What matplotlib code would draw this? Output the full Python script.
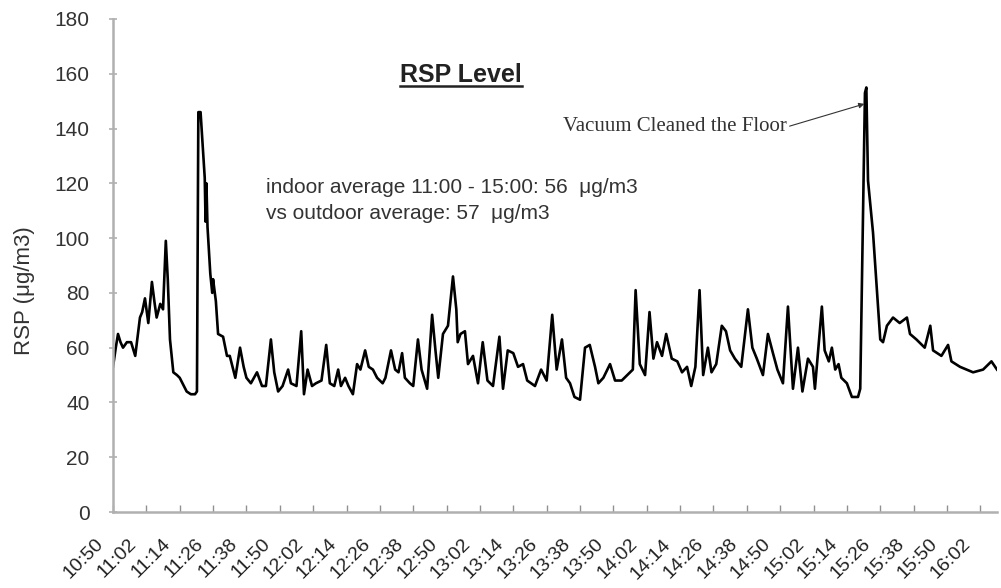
import matplotlib
matplotlib.use("Agg")
import matplotlib.pyplot as plt
from matplotlib.lines import Line2D
from matplotlib.transforms import ScaledTranslation

# ---- data (minutes after 10:50, RSP in ug/m3) ----
minutes = [0, 1, 1.8, 2.7, 3.6, 5, 6.5, 8, 9.7, 10.5, 11.5, 12.7, 14, 15, 15.7, 17, 18, 19, 19.7,
           20.5, 21.7, 23, 24, 25, 26.5, 28, 29.5, 30.2, 30.7, 31.5, 32, 33, 33.3, 33.6, 34, 35,
           35.7, 36, 37, 37.8, 39.6, 41, 42, 43, 44, 45.7, 47, 48, 49.6, 51.8, 53.6, 55, 56.8,
           58, 59.4, 61, 63,
           64, 66, 67.7, 68.7, 70, 71.6, 73, 75, 76.7, 78, 79.6, 81, 82, 83.5, 84.7, 86.3, 87.8,
           89, 90.7, 92, 93.5, 95, 97, 98, 100, 101.5, 102.7, 104, 105, 106.8, 108, 109.7, 111,
           113, 114.8, 116, 117, 118.7, 120.5, 122.3, 123.5, 124, 125, 126.6, 127.7, 129.5,
           131.3, 133, 134.7, 136.7, 139, 140.3, 142, 144, 145.7, 147.5, 149, 151.8, 154, 156,
           158, 159.6, 161.5, 163, 164.4, 166, 168, 169.8, 171.5, 173.4, 174.6, 176.4, 178.8,
           180.6, 183, 185, 187, 188, 189.5, 191.4, 193, 194.4, 195.7, 197.5, 199, 201, 203,
           204.7, 206.5, 208, 209.5, 211, 212.3, 214, 215.3, 217, 219, 220.5, 222, 223.7, 226,
           228.4, 230, 231.6, 233.8, 235.6, 237.4, 239, 241, 242.8, 244.6, 246.4, 248, 250,
           251.8, 252.5, 255, 256, 257.5, 258.6, 259.8, 261, 262, 264, 265.8, 268, 268.8,
           270.5, 271, 271.6, 273.4, 276, 277, 278.4, 280.6, 283, 285.6, 286.7, 289, 292, 294,
           295, 298, 300.4, 301.6, 304.7, 309.4, 313, 316, 318]
rsp = [53, 60, 65, 62, 60, 62, 62, 57, 71, 73, 78, 69, 84, 76, 71, 76, 74, 99, 85,
       63, 51, 50, 49, 47, 44, 43, 43, 44, 146, 146, 138, 122, 106, 120, 104, 87,
       80, 85, 77, 65, 64, 57, 57, 53, 49, 60, 53, 49, 47, 51, 46, 46, 63,
       51, 44, 46, 52,
       47, 46, 66, 43, 52, 46, 47, 48, 61, 47, 46, 52, 46, 49, 46, 43, 54,
       52, 59, 53, 52, 49, 47, 49, 59, 52, 51, 58, 49, 47, 46, 63, 52,
       45, 72, 59, 49, 65, 68, 86, 74, 62, 65, 66, 54, 57,
       47, 62, 48, 46, 64, 45, 59, 58, 53, 54, 48, 46, 52, 48,
       72, 52, 63, 49, 47, 42, 41, 60, 61, 53, 47, 49, 54,
       48, 48, 50, 52, 81, 54, 50, 73, 56, 62, 57, 65, 56, 55,
       51, 53, 46, 53, 81, 50, 60, 51, 54, 68, 66, 59, 56, 53,
       74, 60, 56, 50, 65, 58, 52, 47, 75, 45, 60, 44, 56,
       53, 45, 75, 59, 55, 60, 52, 54, 49, 47, 42, 42, 45,
       153, 155, 121, 102, 63, 62, 68, 71, 69, 71, 65, 63, 60, 68,
       59, 57, 61, 55, 53, 51, 52, 55, 52]

start_hour, start_min = 10, 50
tick_step = 12
n_ticks = 27
tick_labels = []
for i in range(n_ticks):
    t = start_hour * 60 + start_min + i * tick_step
    tick_labels.append(f"{t // 60}:{t % 60:02d}")
tick_pos = [i * tick_step for i in range(n_ticks)]

title = "RSP Level"
note1 = "indoor average 11:00 - 15:00: 56  μg/m3"
note2 = "vs outdoor average: 57  μg/m3"
event = "Vacuum Cleaned the Floor"

# ---- figure ----
fig = plt.figure(figsize=(10.01, 5.88), dpi=100)
ax = fig.add_axes([113 / 1001, 1 - 512 / 588, (997 - 113) / 1001, (512 - 19) / 588])

ax.plot(minutes, rsp, color="black", lw=1.9)

ax.set_xlim(0, 318)
ax.set_ylim(0, 180)
ax.set_yticks(range(0, 181, 20))
ax.set_xticks(tick_pos)
ax.set_xticklabels([])

# rotated time labels, placed below-left of each tick
lab_tr = ax.get_xaxis_transform() + ScaledTranslation(-13 / 72, -17 / 72, fig.dpi_scale_trans)
for pos, lab in zip(tick_pos, tick_labels):
    ax.text(pos, 0, lab, transform=lab_tr, rotation=45, ha="right", va="top",
            rotation_mode="anchor", fontsize=14, color="#222222",
            family="Liberation Sans", clip_on=False)

for lab in ax.get_yticklabels():
    lab.set_fontsize(15)
    lab.set_color("#333333")
    lab.set_family("Liberation Sans")

for s in ["top", "right"]:
    ax.spines[s].set_visible(False)
for s in ["left", "bottom"]:
    ax.spines[s].set_color("#b0b0b0")
    ax.spines[s].set_linewidth(1.8)
ax.tick_params(axis="y", direction="inout", length=6, color="#b0b0b0", width=1.2, pad=14)
ax.tick_params(axis="x", direction="in", length=5, color="#909090", width=1.0)

ax.set_ylabel("RSP (μg/m3)", fontsize=16, color="#333333", family="Liberation Sans")
ax.yaxis.set_label_coords(-0.088, 0.45)

t = ax.text(0.394, 0.886, title, transform=ax.transAxes, ha="center", va="center",
            fontsize=18, fontweight="bold", color="#222222", family="Liberation Sans")
ax.text(0.173, 0.659, note1, transform=ax.transAxes, ha="left", va="center",
        fontsize=15, color="#333333", family="Liberation Sans")
ax.text(0.173, 0.606, note2, transform=ax.transAxes, ha="left", va="center",
        fontsize=15, color="#333333", family="Liberation Sans")

ax.annotate(event, xy=(270.3, 149), xycoords="data",
            xytext=(0.509, 0.781), textcoords="axes fraction",
            ha="left", va="center", fontsize=15, color="#333333",
            family="Liberation Serif",
            arrowprops=dict(arrowstyle="-|>", color="#333333", lw=0.8,
                            mutation_scale=8, relpos=(1.0, 0.5),
                            shrinkA=0, shrinkB=0))

# underline the title
fig.canvas.draw()
bb = t.get_window_extent()
inv = fig.transFigure.inverted()
(x0, y0), (x1, _) = inv.transform([(bb.x0, bb.y0), (bb.x1, bb.y0)])
fig.add_artist(Line2D([x0, x1], [y0 + 0.002, y0 + 0.002], transform=fig.transFigure,
                      color="#222222", lw=1.8))

fig.savefig("out.png", dpi=100)
